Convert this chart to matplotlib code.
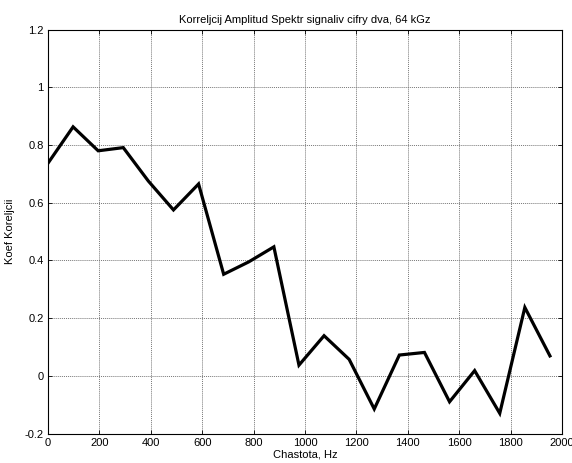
import numpy as np
import matplotlib
matplotlib.use("Agg")
import matplotlib.pyplot as plt
from matplotlib.ticker import FixedLocator

plt.rcParams['font.family'] = ['Liberation Sans', 'DejaVu Sans']

# Spectrum bin step (Hz) and correlation coefficient per bin
freq_step = 97.65625
n_bins = 21
corr = [0.737, 0.863, 0.780, 0.791, 0.675, 0.575, 0.665, 0.352, 0.395, 0.447,
        0.037, 0.139, 0.057, -0.115, 0.072, 0.081, -0.090, 0.018, -0.130,
        0.237, 0.069]

x_ticks = [0, 200, 400, 600, 800, 1000, 1200, 1400, 1600, 1800, 2000]
y_ticks = [-0.2, 0, 0.2, 0.4, 0.6, 0.8, 1.0, 1.2]
y_tick_labels = ['-0.2', '0', '0.2', '0.4', '0.6', '0.8', '1', '1.2']

freqs = np.arange(n_bins) * freq_step

fig = plt.figure(figsize=(5.72, 4.63), dpi=100)
ax = fig.add_axes([0.0839, 0.0637, 0.8986, 0.8723])

ax.plot(freqs, corr, color='black', linewidth=2.3, solid_joinstyle='miter')

ax.set_xlim(0, 2000)
ax.set_ylim(-0.2, 1.2)
ax.xaxis.set_major_locator(FixedLocator(x_ticks))
ax.yaxis.set_major_locator(FixedLocator(y_ticks))
ax.set_xticklabels([str(t) for t in x_ticks])
ax.set_yticklabels(y_tick_labels)

ax.grid(True, color='#777777', linestyle=(0, (1, 1)), linewidth=0.7)
ax.tick_params(direction='in', length=3, width=0.6, top=True, right=True,
               labelsize=8, pad=3)
for s in ax.spines.values():
    s.set_linewidth(0.8)

ax.set_title('Korreljcij Amplitud Spektr signaliv cifry dva, 64 kGz',
             fontsize=8, pad=5)
ax.set_xlabel('Chastota, Hz', fontsize=8, labelpad=1)
ax.set_ylabel('Koef Koreljcii', fontsize=8, labelpad=7)

fig.savefig('out.png', dpi=100)
